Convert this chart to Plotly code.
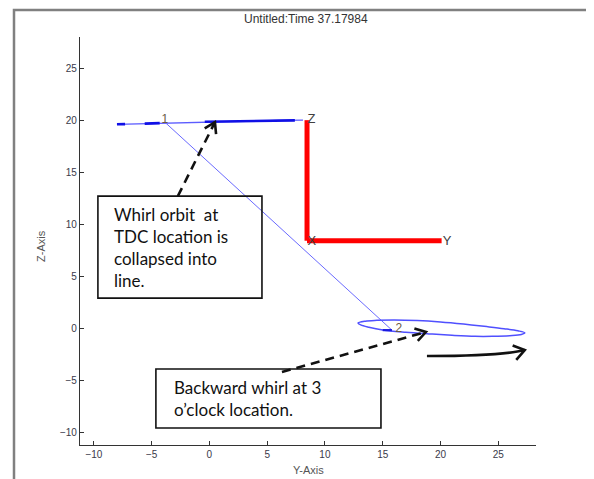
import math
import plotly.graph_objects as go

# ---------------- data ----------------
x_range = [-11.2, 28.27]
z_range = [-11.25, 28.0]
x_ticks = [-10, -5, 0, 5, 10, 15, 20, 25]
z_ticks = [-10, -5, 0, 5, 10, 15, 20, 25]

# whirl orbit at TDC (collapsed into a line)
orbit1_y = [-8.0, -6.0, -4.0, -2.0, 0.0, 2.0, 4.0, 6.0, 8.1]
orbit1_z = [19.6, 19.66, 19.72, 19.78, 19.84, 19.89, 19.93, 19.97, 20.0]
orbit1_dense_y = [-8.0, -7.3, None, -5.6, -4.3, None, -0.4, 7.4]
orbit1_dense_z = [19.6, 19.62, None, 19.67, 19.71, None, 19.84, 19.98]

# shaft line from node 1 to node 2
shaft_y = [-3.85, 15.8]
shaft_z = [19.8, -0.2]

# backward whirl orbit at 3 o'clock
orbit2_y = [12.86, 13.5, 14.5, 16.0, 18.0, 20.0, 22.0, 24.0, 25.5, 26.7, 27.3,
            27.0, 26.0, 24.5, 23.0, 21.0, 19.0, 17.0, 15.0, 13.8, 13.1, 12.86]
orbit2_z = [0.48, 0.66, 0.74, 0.78, 0.72, 0.58, 0.38, 0.14, -0.06, -0.26, -0.45,
            -0.62, -0.74, -0.8, -0.8, -0.7, -0.56, -0.4, -0.18, 0.08, 0.3, 0.48]
orbit2_dense_y = [15.0, 15.8]
orbit2_dense_z = [-0.2, -0.2]

# node labels
node_y = [-3.85, 16.4]
node_z = [20.0, -0.1]
node_text = ["1", "2"]

# coordinate triad (red)
triad_y = [8.45, 8.45, None, 8.45, 20.1]
triad_z = [20.0, 8.4, None, 8.4, 8.4]
triad_lbl_y = [8.5, 8.5, 20.2]
triad_lbl_z = [20.0, 8.3, 8.3]
triad_text = ["Z", "X", "Y"]

# callouts
box1 = dict(y0=-9.65, y1=4.55, z0=2.88, z1=12.69)
box1_text = "Whirl orbit  at<br>TDC location is<br>collapsed into<br>line."
box1_anchor = (-8.44, 7.79)
box2 = dict(y0=-4.63, y1=14.85, z0=-9.62, z1=-3.94)
box2_text = "Backward whirl at 3<br>o\u2019clock location."
box2_anchor = (-3.25, -6.78)

arrow1_tail, arrow1_tip = (-2.73, 12.69), (0.48, 19.81)
arrow2_tail, arrow2_tip = (6.28, -4.23), (18.74, -0.38)
curve_start, curve_ctrl, curve_end = (18.83, -2.69), (25.2, -2.7), (27.3, -2.12)

title_text = "Untitled:Time 37.17984"

# ---------------- layout geometry ----------------
W, H = 594, 479
ML, MR, MT, MB = 72, 66, 29, 42
PW, PH = W - ML - MR, H - MT - MB
SX = PW / (x_range[1] - x_range[0])
SZ = PH / (z_range[1] - z_range[0])


def px_x(p):
    return (p - ML) / PW


def px_y(p):
    return ((H - MB) - p) / PH


def chevron(tail, tip, L=12, ang=32):
    dx = (tip[0] - tail[0]) * SX
    dy = (tip[1] - tail[1]) * SZ
    n = math.hypot(dx, dy)
    ux, uy = -dx / n, -dy / n
    pts = []
    for s in (1, -1):
        a = math.radians(ang * s)
        rx = ux * math.cos(a) - uy * math.sin(a)
        ry = ux * math.sin(a) + uy * math.cos(a)
        pts.append((tip[0] + rx * L / SX, tip[1] + ry * L / SZ))
    return "M {} {} L {} {} L {} {}".format(pts[0][0], pts[0][1], tip[0], tip[1], pts[1][0], pts[1][1])


fig = go.Figure()
fig.add_trace(go.Scatter(x=orbit1_y, y=orbit1_z, mode="lines",
                         line=dict(color="#5c5cff", width=1.3), hoverinfo="skip"))
fig.add_trace(go.Scatter(x=orbit1_dense_y, y=orbit1_dense_z, mode="lines",
                         line=dict(color="#1010e6", width=2.6), hoverinfo="skip"))
fig.add_trace(go.Scatter(x=shaft_y, y=shaft_z, mode="lines",
                         line=dict(color="#6a6aff", width=1), hoverinfo="skip"))
fig.add_trace(go.Scatter(x=orbit2_y, y=orbit2_z, mode="lines", line_shape="spline",
                         line=dict(color="#5050ff", width=1.5, smoothing=1.0), hoverinfo="skip"))
fig.add_trace(go.Scatter(x=orbit2_dense_y, y=orbit2_dense_z, mode="lines",
                         line=dict(color="#1a1ae0", width=2.2), hoverinfo="skip"))
fig.add_trace(go.Scatter(x=triad_y, y=triad_z, mode="lines",
                         line=dict(color="#ff0000", width=5), hoverinfo="skip"))
fig.add_trace(go.Scatter(x=node_y, y=node_z, mode="text", text=node_text,
                         textposition="middle center",
                         textfont=dict(family="Liberation Sans", size=12, color="#6b5a45"),
                         hoverinfo="skip"))
fig.add_trace(go.Scatter(x=triad_lbl_y, y=triad_lbl_z, mode="text", text=triad_text,
                         textposition="middle right",
                         textfont=dict(family="Liberation Sans", size=13, color="#404040"),
                         hoverinfo="skip"))

shapes = []
for b in (box1, box2):
    shapes.append(dict(type="rect", xref="x", yref="y", x0=b["y0"], x1=b["y1"],
                       y0=b["z0"], y1=b["z1"], line=dict(color="#111111", width=1.6),
                       fillcolor="rgba(255,255,255,0)", layer="above"))
for tail, tip in ((arrow1_tail, arrow1_tip), (arrow2_tail, arrow2_tip)):
    shapes.append(dict(type="line", xref="x", yref="y", x0=tail[0], y0=tail[1],
                       x1=tip[0], y1=tip[1],
                       line=dict(color="#111111", width=2.6, dash="9px,6px")))
    shapes.append(dict(type="path", xref="x", yref="y", path=chevron(tail, tip),
                       line=dict(color="#111111", width=2.6)))
shapes.append(dict(type="path", xref="x", yref="y",
                   path="M {} {} Q {} {} {} {}".format(curve_start[0], curve_start[1],
                                                      curve_ctrl[0], curve_ctrl[1],
                                                      curve_end[0], curve_end[1]),
                   line=dict(color="#111111", width=2.6)))
shapes.append(dict(type="path", xref="x", yref="y", path=chevron(curve_ctrl, curve_end, L=13, ang=35),
                   line=dict(color="#111111", width=2.6)))
# outer frame
shapes.append(dict(type="rect", xref="paper", yref="paper",
                   x0=px_x(6), x1=px_x(587), y0=px_y(520), y1=px_y(2),
                   line=dict(color="#808080", width=2.5), fillcolor="rgba(0,0,0,0)"))

annotations = [
    dict(x=box1_anchor[0], y=box1_anchor[1], xref="x", yref="y", text=box1_text,
         showarrow=False, xanchor="left", yanchor="middle", align="left",
         font=dict(family="Lato", size=17, color="#111111")),
    dict(x=box2_anchor[0], y=box2_anchor[1], xref="x", yref="y", text=box2_text,
         showarrow=False, xanchor="left", yanchor="middle", align="left",
         font=dict(family="Lato", size=17, color="#111111")),
    dict(x=px_x(ML + PW / 2), y=px_y(462), xref="paper", yref="paper", text="Y-Axis",
         showarrow=False, xanchor="center", yanchor="middle",
         font=dict(family="Liberation Sans", size=11, color="#555555")),
    dict(x=px_x(33), y=px_y(238), xref="paper", yref="paper", text="Z-Axis",
         showarrow=False, xanchor="center", yanchor="middle", textangle=-90,
         font=dict(family="Liberation Sans", size=11, color="#555555")),
    dict(x=px_x(ML + PW / 2 - 2), y=px_y(11), xref="paper", yref="paper", text=title_text,
         showarrow=False, xanchor="center", yanchor="middle",
         font=dict(family="Liberation Sans", size=12, color="#333333")),
]

axis_common = dict(showline=True, linecolor="#333333", linewidth=1.2, ticks="inside",
                   ticklen=4, tickcolor="#333333", showgrid=False, zeroline=False,
                   tickfont=dict(family="Liberation Sans", size=10, color="#3a3a4a"),
                   fixedrange=True)

fig.update_layout(
    width=W, height=H, margin=dict(l=ML, r=MR, t=MT, b=MB),
    paper_bgcolor="white", plot_bgcolor="white", showlegend=False,
    xaxis=dict(range=x_range, tickvals=x_ticks, **axis_common),
    yaxis=dict(range=z_range, tickvals=z_ticks, **axis_common),
    shapes=shapes, annotations=annotations,
)

fig.write_html("out.html")
